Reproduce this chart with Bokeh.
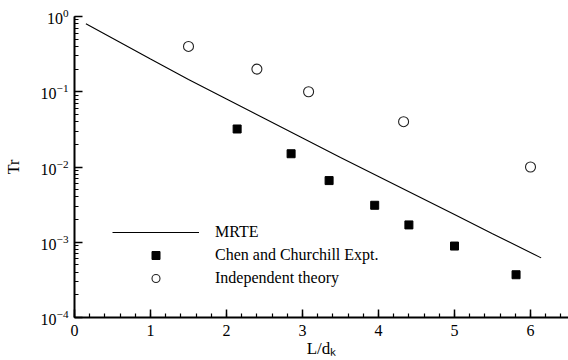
from bokeh.plotting import figure
from bokeh.models import Range1d, Legend, LegendItem, LogTicker
from bokeh.embed import file_html
from bokeh.resources import INLINE

# MRTE prediction (transmittance vs. dimensionless length)
mrte_x = [0.15, 0.5, 1.0, 1.5, 2.0, 2.5, 3.0, 3.5, 4.0, 4.5, 5.0, 5.5, 6.14]
mrte_tr = [0.80, 0.513, 0.272, 0.145, 0.080, 0.0441, 0.0243, 0.0134, 0.0075,
           0.00418, 0.00233, 0.0013, 0.00062]

# Chen and Churchill experimental data
expt_x = [2.14, 2.85, 3.35, 3.95, 4.40, 5.00, 5.81]
expt_tr = [0.032, 0.015, 0.0066, 0.0031, 0.0017, 0.00089, 0.00037]

# Independent theory
theory_x = [1.5, 2.4, 3.08, 4.33, 6.0]
theory_tr = [0.4, 0.2, 0.1, 0.04, 0.01]

SERIF = "Liberation Serif"

p = figure(width=568, height=360, y_axis_type="log",
           x_range=Range1d(0, 6.5), y_range=Range1d(1e-4, 1.0),
           output_backend="svg", toolbar_location=None,
           min_border_left=74, min_border_right=0,
           min_border_top=16, min_border_bottom=43)
p.outline_line_color = None
p.grid.visible = False
p.background_fill_color = "white"

r_line = p.line(mrte_x, mrte_tr, line_color="black", line_width=1.1)
r_sq = p.scatter(expt_x, expt_tr, marker="square", size=8,
                 fill_color="black", line_color="black")
r_ci = p.scatter(theory_x, theory_tr, marker="circle", size=10,
                 fill_color=None, line_color="#222222", line_width=1.1)

legend = Legend(items=[
    LegendItem(label="MRTE", renderers=[r_line]),
    LegendItem(label="Chen and Churchill Expt.", renderers=[r_sq]),
    LegendItem(label="Independent theory", renderers=[r_ci]),
], location=(38, 29), orientation="vertical",
   glyph_width=87, glyph_height=20, spacing=3, padding=0, margin=0,
   label_standoff=16, label_text_font=SERIF, label_text_font_size="16px",
   label_text_color="black", border_line_alpha=0, background_fill_alpha=0)
p.add_layout(legend, "center")

for ax in (p.xaxis[0], p.yaxis[0]):
    ax.axis_line_width = 2
    ax.axis_line_color = "black"
    ax.major_tick_in = 8
    ax.major_tick_out = 0
    ax.minor_tick_in = 4
    ax.minor_tick_out = 0
    ax.major_tick_line_width = 1.5
    ax.minor_tick_line_width = 1.2
    ax.major_label_text_font = SERIF
    ax.major_label_text_font_size = "16px"
    ax.major_label_text_color = "black"
    ax.axis_label_text_font = SERIF
    ax.axis_label_text_font_style = "normal"
    ax.axis_label_text_color = "black"

p.xaxis.ticker.desired_num_ticks = 7
p.xaxis[0].ticker.num_minor_ticks = 5
p.xaxis.major_label_standoff = 7
p.yaxis[0].ticker = LogTicker(num_minor_ticks=10)
p.yaxis.major_label_standoff = 6

# axis titles
p.yaxis.axis_label = "Tr"
p.yaxis.axis_label_text_font_size = "16px"
p.yaxis.axis_label_standoff = 16

p.xaxis.axis_label = "L/d\u2096"
p.xaxis.axis_label_text_font_size = "17px"
p.xaxis.axis_label_standoff = 0

open("out.html", "w").write(file_html(p, INLINE))
